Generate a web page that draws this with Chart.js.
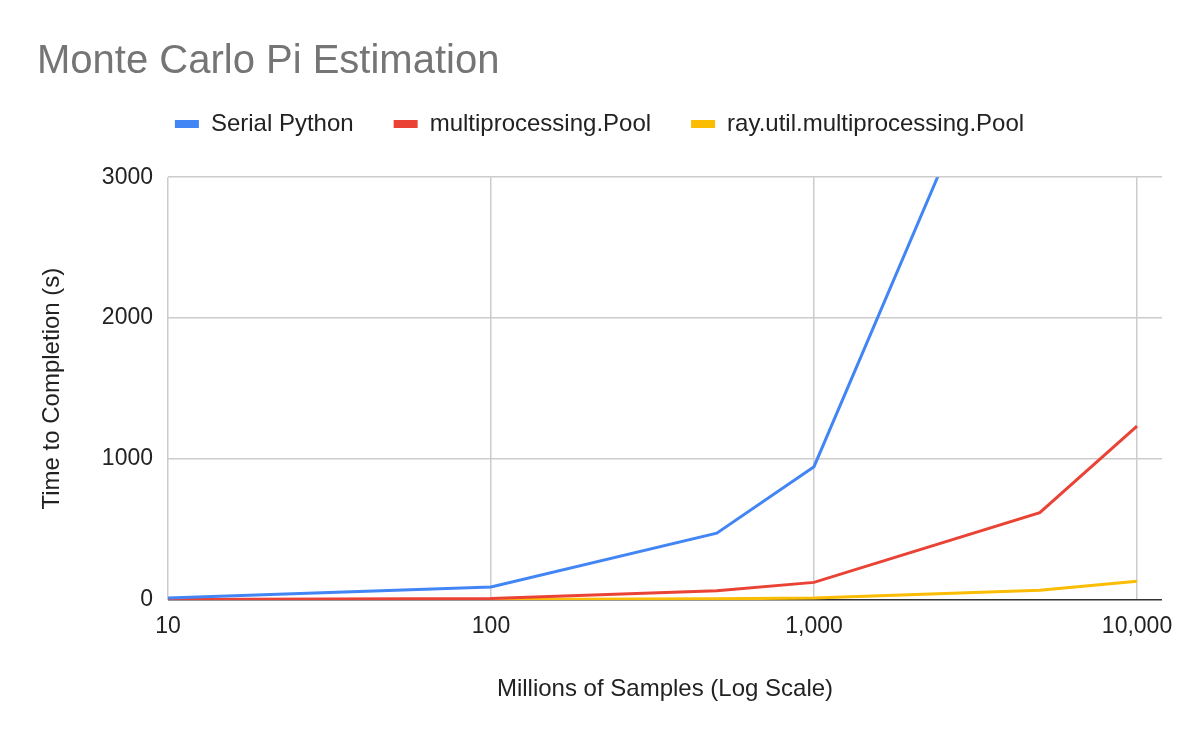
<!DOCTYPE html>
<html>
<head>
<meta charset="utf-8">
<title>Monte Carlo Pi Estimation</title>
<script src="https://cdn.jsdelivr.net/npm/chart.js@4/dist/chart.umd.min.js"></script>
<style>
  html, body { margin: 0; padding: 0; background: #fff; }
  #wrap { width: 1200px; height: 742px; }
</style>
</head>
<body>
<div id="wrap"><canvas id="piChart"></canvas></div>
<script>
// millions of samples (x) and time to completion in seconds (y)
const samples = [10, 100, 500, 1000, 5000, 10000];
const serialPython = [15, 92, 474, 946, 4700, 9400];
const mpPool = [3, 11, 65, 125, 620, 1234];
const rayPool = [2, 4, 8, 14, 69, 133];
const xTicks = [10, 100, 1000, 10000];
const yTicks = [0, 1000, 2000, 3000];

const fontFamily = '"Liberation Sans", Arial, sans-serif';
Chart.defaults.font.family = fontFamily;
Chart.defaults.color = '#222';

const toPoints = (vals) => samples.map((x, i) => ({ x: x, y: vals[i] }));

function series(label, vals, color) {
    return {
        label: label,
        data: toPoints(vals),
        borderColor: color,
        backgroundColor: color,
        borderWidth: 3,
        pointRadius: 0,
        pointHoverRadius: 0,
        showLine: true,
        tension: 0
    };
}

new Chart(document.getElementById('piChart'), {
    type: 'scatter',
    data: {
        datasets: [
            series('Serial Python', serialPython, '#4285F4'),
            series('multiprocessing.Pool', mpPool, '#EA4335'),
            series('ray.util.multiprocessing.Pool', rayPool, '#FBBC04')
        ]
    },
    options: {
        responsive: true,
        maintainAspectRatio: false,
        animation: false,
        layout: { padding: { left: 37, right: 38, top: 0, bottom: 38 } },
        plugins: {
            title: {
                display: true,
                text: 'Monte Carlo Pi Estimation',
                align: 'start',
                color: '#757575',
                font: { size: 40, weight: 'normal', lineHeight: 0.5 },
                padding: { top: 52, bottom: 0 }
            },
            // empty spacer between the legend and the plot
            subtitle: {
                display: true,
                text: '',
                weight: 500,
                font: { size: 1 },
                padding: { top: 30, bottom: 0 }
            },
            legend: {
                labels: {
                    boxWidth: 24,
                    boxHeight: 8,
                    padding: 40,
                    color: '#222',
                    font: { size: 24 },
                    generateLabels: (chart) => {
                        const items = Chart.defaults.plugins.legend.labels.generateLabels(chart);
                        items.forEach(it => { it.lineWidth = 0; });
                        return items;
                    }
                }
            },
            tooltip: { enabled: false }
        },
        scales: {
            x: {
                type: 'logarithmic',
                min: 10,
                max: 11950,
                afterBuildTicks: (scale) => { scale.ticks = xTicks.map(v => ({ value: v })); },
                afterFit: (scale) => { scale.height = 104; },
                ticks: {
                    padding: 13,
                    font: { size: 23 },
                    color: '#222',
                    maxRotation: 0,
                    callback: (v) => Number(v).toLocaleString('en-US')
                },
                grid: { color: '#cccccc', lineWidth: 1.5, drawTicks: false },
                border: { display: false },
                title: {
                    display: true,
                    text: 'Millions of Samples (Log Scale)',
                    font: { size: 24 },
                    color: '#222',
                    padding: { top: 30, bottom: 0 }
                }
            },
            y: {
                min: 0,
                max: 3000,
                afterBuildTicks: (scale) => { scale.ticks = yTicks.map(v => ({ value: v })); },
                afterFit: (scale) => { scale.width = 131; },
                ticks: {
                    padding: 15,
                    font: { size: 23 },
                    color: '#222',
                    callback: (v) => String(v)
                },
                grid: {
                    color: (c) => c.tick && c.tick.value === 0 ? '#333333' : '#cccccc',
                    lineWidth: 1.5,
                    drawTicks: false
                },
                border: { display: false },
                title: {
                    display: true,
                    text: 'Time to Completion (s)',
                    font: { size: 24 },
                    color: '#222',
                    padding: { top: 1, bottom: 0 }
                }
            }
        }
    }
});
</script>
</body>
</html>
